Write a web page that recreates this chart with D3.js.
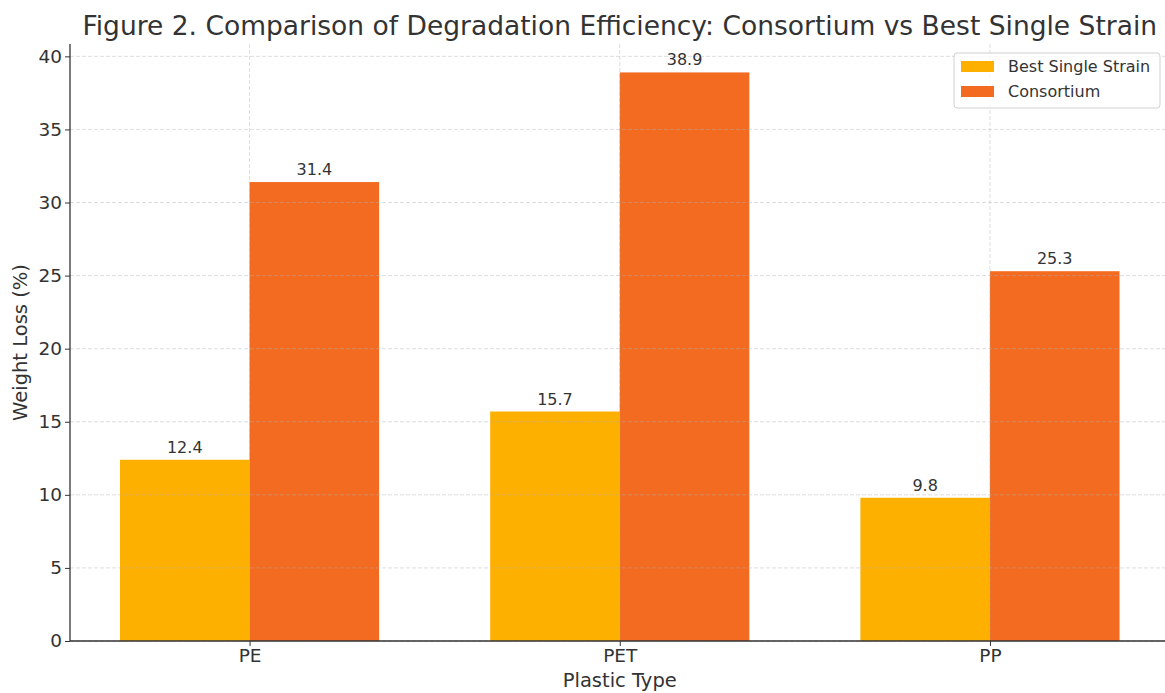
<!DOCTYPE html>
<html>
<head>
<meta charset="utf-8">
<script src="https://cdn.jsdelivr.net/npm/d3@7"></script>
<style>
  html, body { margin: 0; padding: 0; background: #fff; }
  svg text { font-family: "DejaVu Sans", sans-serif; fill: #333; }
</style>
</head>
<body>
<svg id="chart" width="1165" height="693"></svg>
<script>
// Plastic types and weight loss (%) for each treatment
const categories = ["PE", "PET", "PP"];
const seriesNames = ["Best Single Strain", "Consortium"];
const singleStrain = [12.4, 15.7, 9.8];
const consortium = [31.4, 38.9, 25.3];
const yTicks = [0, 5, 10, 15, 20, 25, 30, 35, 40];
const colors = ["#FEB000", "#F26B21"];

const svg = d3.select("#chart");
const W = 1165, H = 693;
const margin = { left: 70, top: 44, bottom: 52 };
const plotBottom = H - margin.bottom;

const barW = 0.35;
// category index scale with 5% padding around the bar extent
const x = d3.scaleLinear()
  .domain([-barW - 0.135, categories.length - 1 + barW + 0.135])
  .range([margin.left, 1169.5]);
const y = d3.scaleLinear()
  .domain([0, 38.9 * 1.05])
  .range([plotBottom, margin.top]);

const rows = [singleStrain, consortium];

// bars
rows.forEach((vals, s) => {
  svg.append("g").selectAll("rect").data(vals).join("rect")
    .attr("x", (d, i) => x(i + (s === 0 ? -barW : 0)))
    .attr("width", (d, i) => x(barW) - x(0))
    .attr("y", d => y(d))
    .attr("height", d => y(0) - y(d))
    .attr("fill", colors[s]);
});

// dashed grid on top of bars
const grid = svg.append("g");
grid.selectAll("line.h").data(yTicks).join("line")
  .attr("x1", margin.left).attr("x2", W)
  .attr("y1", d => y(d)).attr("y2", d => y(d))
  .attr("stroke", "#b0b0b0").attr("stroke-opacity", 0.55)
  .attr("stroke-dasharray", "4,2").attr("stroke-width", 0.8);
grid.selectAll("line.v").data(categories).join("line")
  .attr("x1", (d, i) => x(i)).attr("x2", (d, i) => x(i))
  .attr("y1", margin.top).attr("y2", plotBottom)
  .attr("stroke", "#b0b0b0").attr("stroke-opacity", 0.55)
  .attr("stroke-dasharray", "4,2").attr("stroke-width", 0.8);

// value labels
rows.forEach((vals, s) => {
  svg.append("g").selectAll("text").data(vals).join("text")
    .attr("x", (d, i) => x(i + (s === 0 ? -barW / 2 : barW / 2)))
    .attr("y", d => y(d) - 7)
    .attr("text-anchor", "middle")
    .attr("font-size", 16)
    .text(d => d.toFixed(1));
});

// axes
const yAxis = d3.axisLeft(y).tickValues(yTicks).tickSize(5).tickPadding(3).tickFormat(d3.format("d"));
const gy = svg.append("g").attr("transform", `translate(${margin.left},0)`).call(yAxis);
const xAxis = d3.axisBottom(x).tickValues(d3.range(categories.length)).tickSize(5).tickPadding(3)
  .tickFormat(i => categories[i]);
const gx = svg.append("g").attr("transform", `translate(0,${plotBottom})`).call(xAxis);
[gx, gy].forEach(g => {
  g.selectAll(".domain").attr("stroke", "#333").attr("stroke-width", 1.3);
  g.selectAll(".tick line").attr("stroke", "#333").attr("stroke-width", 1);
  g.selectAll(".tick text").attr("font-size", 18.5).attr("fill", "#333").attr("font-family", "DejaVu Sans, sans-serif");
});
gy.select(".domain").attr("d", `M0,${margin.top}V${plotBottom}`);
gx.select(".domain").attr("d", `M${margin.left},0H${W}`);

// axis titles
svg.append("text")
  .attr("x", x(1)).attr("y", 687)
  .attr("text-anchor", "middle").attr("font-size", 19.5)
  .text("Plastic Type");
svg.append("text")
  .attr("transform", `translate(27,${(margin.top + plotBottom) / 2}) rotate(-90)`)
  .attr("text-anchor", "middle").attr("font-size", 19.5)
  .text("Weight Loss (%)");

// chart title
svg.append("text")
  .attr("x", (margin.left + 1169.5) / 2).attr("y", 35)
  .attr("text-anchor", "middle").attr("font-size", 26.5)
  .text("Figure 2. Comparison of Degradation Efficiency: Consortium vs Best Single Strain");

// legend
const lg = svg.append("g").attr("transform", "translate(954,53)");
lg.append("rect").attr("width", 206).attr("height", 55).attr("rx", 3)
  .attr("fill", "#fff").attr("fill-opacity", 0.8)
  .attr("stroke", "#d0d0d0").attr("stroke-width", 1);
seriesNames.forEach((name, s) => {
  lg.append("rect").attr("x", 7).attr("y", 8 + s * 25).attr("width", 33).attr("height", 11)
    .attr("fill", colors[s]);
  lg.append("text").attr("x", 54).attr("y", 19 + s * 25)
    .attr("font-size", 16).text(name);
});
</script>
</body>
</html>
